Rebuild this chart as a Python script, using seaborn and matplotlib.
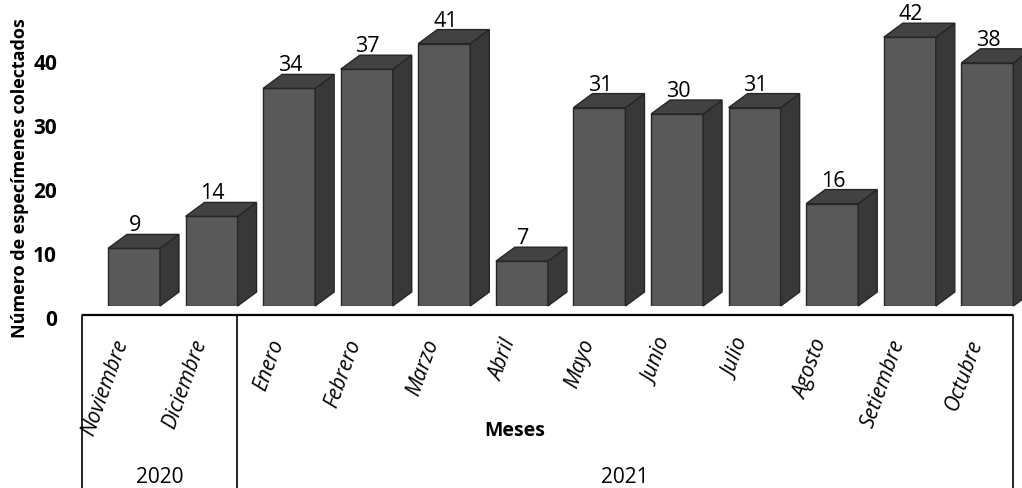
import matplotlib
matplotlib.use("Agg")
import matplotlib.pyplot as plt
from matplotlib.patches import Polygon
from matplotlib.transforms import ScaledTranslation
import numpy as np
import pandas as pd
import seaborn as sns

# Monthly counts of collected specimens
months = ["Noviembre", "Diciembre", "Enero", "Febrero", "Marzo", "Abril",
          "Mayo", "Junio", "Julio", "Agosto", "Setiembre", "Octubre"]
counts = [9, 14, 34, 37, 41, 7, 31, 30, 31, 16, 42, 38]
year_groups = ["2020", "2021"]
group_sizes = [2, 10]
yticks = [0, 10, 20, 30, 40]

sns.set_theme(style="white")
plt.rcParams["font.family"] = ["Open Sans", "DejaVu Sans"]

W, H = 1022, 489
FRONT = "#595959"
TOP = "#424242"
SIDE = "#383838"
EDGE = "#262626"

fig = plt.figure(figsize=(W / 100, H / 100), dpi=100)
ax = fig.add_axes([82 / W, (H - 307) / H, 931 / W, 288 / H])

df = pd.DataFrame({"Mes": months, "N": counts})
sns.barplot(data=df, x="Mes", y="N", color=FRONT, saturation=1, width=0.67,
            edgecolor=EDGE, linewidth=1.0, ax=ax)
ax.set_xlim(-0.5, len(months) - 0.5)
ax.set_ylim(0, 45)
sns.despine(ax=ax, left=True, bottom=True)
ax.set_xlabel("")
ax.set_ylabel("")

# depth of the pseudo-3D boxes, in pixels, converted to data units
DEPTH_X, DEPTH_Y = 19, 14
BAR_SHIFT = 0.17
ux = (ax.get_xlim()[1] - ax.get_xlim()[0]) / ax.bbox.width
uy = (ax.get_ylim()[1] - ax.get_ylim()[0]) / ax.bbox.height
dx, dy = DEPTH_X * ux, DEPTH_Y * uy

for p, v in zip(list(ax.patches), counts):
    p.set_x(p.get_x() + BAR_SHIFT)
    x0, w, h = p.get_x(), p.get_width(), p.get_height()
    top = Polygon([(x0, h), (x0 + w, h), (x0 + w + dx, h + dy), (x0 + dx, h + dy)],
                  closed=True, facecolor=TOP, edgecolor=EDGE, lw=1.0, clip_on=False)
    side = Polygon([(x0 + w, 0), (x0 + w + dx, dy), (x0 + w + dx, h + dy), (x0 + w, h)],
                   closed=True, facecolor=SIDE, edgecolor=EDGE, lw=1.0, clip_on=False)
    ax.add_patch(side)
    ax.add_patch(top)
    ax.annotate(str(v), xy=(x0 + w / 2, h + dy), xytext=(1, 4),
                textcoords="offset pixels", ha="center", va="baseline",
                fontsize=15.5, color="black", annotation_clip=False)

# value axis labels
ax.set_yticks(yticks)
ax.set_yticklabels([str(t) for t in yticks], fontsize=15, fontweight="bold")
ax.tick_params(axis="y", length=0, pad=18, colors="black")
shift_down = ScaledTranslation(0, -11 / 100, fig.dpi_scale_trans)
for lab in ax.get_yticklabels():
    lab.set_transform(lab.get_transform() + shift_down)

# month labels
ax.set_xticks(range(len(months)))
ax.set_xticklabels(months, rotation=70, ha="right", va="center",
                   rotation_mode="anchor", fontsize=15, fontstyle="italic")
ax.tick_params(axis="x", length=0, pad=24, colors="black")
shift_right = ScaledTranslation(2 / 100, 0, fig.dpi_scale_trans)
for lab in ax.get_xticklabels():
    lab.set_transform(lab.get_transform() + shift_right)

# year grouping box under the month labels
cax = fig.add_axes([82 / W, 0, 931 / W, (H - 316) / H])
cax.set_xlim(-0.5, len(months) - 0.5)
cax.set_ylim(0, 1)
cax.axis("off")
bounds = np.cumsum([0] + group_sizes) - 0.5
cax.plot([bounds[0], bounds[-1]], [1, 1], color="black", lw=1.6,
         clip_on=False, solid_capstyle="butt")
for b in bounds:
    cax.plot([b, b], [0, 1], color="black", lw=1.2, clip_on=False)
for g, lo, hi in zip(year_groups, bounds[:-1], bounds[1:]):
    cax.text((lo + hi) / 2, (H - 478) / (H - 316), g, ha="center", va="center",
             fontsize=15, color="black")

fig.text(515 / W, 1 - 431 / H, "Meses", ha="center", va="center",
         fontsize=14, fontweight="bold", color="black")
fig.text(20 / W, 1 - 178 / H, "Número de especímenes colectados", rotation=90,
         ha="center", va="center", fontsize=13, fontweight="bold", color="black")

fig.savefig("out.png", dpi=100, facecolor="white")
